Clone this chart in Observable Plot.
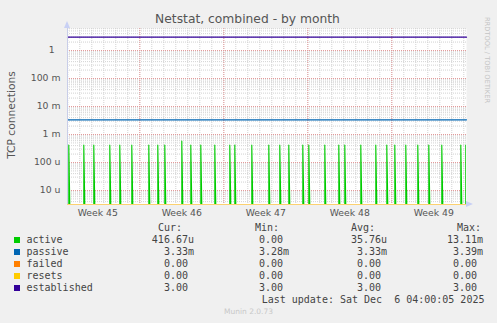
<!DOCTYPE html>
<html><head><meta charset="utf-8">
<script src="https://cdn.jsdelivr.net/npm/d3@7"></script>
<script src="https://cdn.jsdelivr.net/npm/@observablehq/plot@0.6"></script>
<style>
html,body{margin:0;padding:0;background:#f0f0f0;}
#wrap{position:relative;width:497px;height:323px;overflow:hidden;background:#f0f0f0;font-family:"DejaVu Sans",sans-serif;}
#wrap svg{position:absolute;left:0;top:0;}
.t{position:absolute;white-space:pre;line-height:12px;}
.mono{font-family:"DejaVu Sans Mono",monospace;font-size:10px;color:#444;}
.sw{position:absolute;width:6px;height:6px;}
</style></head><body><div id="wrap"></div>
<script>
// ---- data ----
const seriesNames = ["active","passive","failed","resets","established"];
const seriesColors = ["#00CC00","#0066B3","#FF8000","#FFCC00","#330099"];
const curValues = ["416.67u","3.33m","0.00 ","0.00 ","3.00 "];
const minValues = ["0.00 ","3.28m","0.00 ","0.00 ","3.00 "];
const avgValues = ["35.76u","3.33m","0.00 ","0.00 ","3.00 "];
const maxValues = ["13.11m","3.39m","0.00 ","0.00 ","3.00 "];

const activeTimes = ["2025-11-03T02:00:00Z","2025-11-04T08:00:00Z","2025-11-05T04:00:00Z","2025-11-06T12:00:00Z","2025-11-07T08:00:00Z","2025-11-08T08:00:00Z","2025-11-09T18:00:00Z","2025-11-10T12:00:00Z","2025-11-11T02:00:00Z","2025-11-12T12:00:00Z","2025-11-13T06:00:00Z","2025-11-14T02:00:00Z","2025-11-15T06:00:00Z","2025-11-16T12:00:00Z","2025-11-16T22:00:00Z","2025-11-18T08:00:00Z","2025-11-19T18:00:00Z","2025-11-20T16:00:00Z","2025-11-21T10:00:00Z","2025-11-22T14:00:00Z","2025-11-23T02:00:00Z","2025-11-24T10:00:00Z","2025-11-25T14:00:00Z","2025-11-26T02:00:00Z","2025-11-27T10:00:00Z","2025-11-28T16:00:00Z","2025-11-29T14:00:00Z","2025-11-30T06:00:00Z","2025-12-01T04:00:00Z","2025-12-02T04:00:00Z","2025-12-03T02:00:00Z","2025-12-04T04:00:00Z","2025-12-05T18:00:00Z","2025-12-06T04:00:00Z"];
const activeValues = [4.1667e-4,4.1667e-4,4.1667e-4,4.1667e-4,4.1667e-4,4.1667e-4,4.1667e-4,4.1667e-4,4.1667e-4,5.8e-4,4.1667e-4,4.1667e-4,4.1667e-4,4.1667e-4,4.1667e-4,4.1667e-4,4.1667e-4,4.1667e-4,4.1667e-4,4.1667e-4,4.1667e-4,4.1667e-4,4.1667e-4,4.1667e-4,4.1667e-4,4.1667e-4,4.1667e-4,4.1667e-4,4.1667e-4,4.1667e-4,4.1667e-4,4.1667e-4,4.1667e-4,4.1667e-4];

const flatTimes = ["2025-11-02T23:24:00Z","2025-12-06T05:24:00Z"];
const passiveValues = [3.33e-3, 3.33e-3];
const failedValues = [0, 0];
const resetsValues = [0, 0];
const establishedValues = [3, 3];

const weekTicks = ["2025-11-05T12:00:00Z","2025-11-12T12:00:00Z","2025-11-19T12:00:00Z","2025-11-26T12:00:00Z","2025-12-03T12:00:00Z"];
const weekLabels = ["Week 45","Week 46","Week 47","Week 48","Week 49"];
const yTicks = [1, 0.1, 0.01, 0.001, 1e-4, 1e-5];
const yTickLabels = ["1\u00a0\u00a0","100 m","10 m","1 m","100 u","10 u"];

// ---- scales ----
const xDomain = flatTimes.map(s => new Date(s));
const yDomain = [Math.pow(10, -5.5), Math.pow(10, 22/28)];
const floor = yDomain[0];
const clampY = v => Math.max(v, floor);

const stepMs = 2 * 3600 * 1000;
const activeData = [];
activeTimes.forEach((s, i) => {
  const t = new Date(s);
  activeData.push({t, v: floor, z: i});
  activeData.push({t, v: activeValues[i], z: i});
  activeData.push({t: new Date(+t + stepMs), v: floor, z: i});
});
const flat = vals => flatTimes.map((s, i) => ({t: new Date(s), v: clampY(vals[i])}));

const days = d3.utcDay.range(xDomain[0], xDomain[1]);
const sundays = d3.utcSunday.range(xDomain[0], xDomain[1]);
const minorY = [];
for (let k = -6; k <= 0; k++) for (let m = 2; m <= 9; m++) {
  const v = m * Math.pow(10, k);
  if (v > yDomain[0] && v < yDomain[1]) minorY.push(v);
}
const wTicks = weekTicks.map(s => new Date(s));

const plot = Plot.plot({
  width: 497, height: 220,
  marginLeft: 67, marginRight: 31, marginTop: 28, marginBottom: 16,
  style: {fontFamily: "DejaVu Sans, sans-serif", fontSize: "9.3px", color: "#555", background: "transparent", overflow: "visible"},
  x: {type: "utc", domain: xDomain},
  y: {type: "log", domain: yDomain},
  marks: [
    Plot.frame({fill: "white", stroke: "none"}),
    Plot.ruleY(minorY, {y: d => d, stroke: "#d2d2d2", strokeDasharray: "1,1"}),
    Plot.ruleX(days, {x: d => d, stroke: "#d2d2d2", strokeDasharray: "1,1"}),
    Plot.ruleY(yTicks, {y: d => d, stroke: "#e49a9a", strokeDasharray: "1,1"}),
    Plot.ruleX(sundays, {x: d => d, stroke: "#e49a9a", strokeDasharray: "1,1"}),
    Plot.line(activeData, {x: "t", y: "v", z: "z", stroke: seriesColors[0], strokeWidth: 1.1, clip: true, curve: "linear"}),
    Plot.line(flat(passiveValues), {x: "t", y: "v", stroke: seriesColors[1], strokeWidth: 1.2}),
    Plot.line(flat(failedValues), {x: "t", y: "v", stroke: seriesColors[2], strokeWidth: 1, strokeOpacity: 0.3}),
    Plot.line(flat(resetsValues), {x: "t", y: "v", stroke: seriesColors[3], strokeWidth: 1, strokeOpacity: 0.35}),
    Plot.line(flat(establishedValues), {x: "t", y: "v", stroke: seriesColors[4], strokeWidth: 1.2}),
    Plot.ruleX([xDomain[0]], {stroke: "#c8cde8"}),
    Plot.axisY({ticks: yTicks, tickFormat: d => yTickLabels[yTicks.indexOf(d)], tickSize: 0, tickPadding: 7, label: null}),
    Plot.axisX({ticks: wTicks, tickFormat: d => weekLabels[wTicks.findIndex(w => +w === +d)], tickSize: 0, tickPadding: 5, label: null})
  ]
});

const wrap = document.getElementById("wrap");
wrap.appendChild(plot);

// axis arrows
const svg = d3.select(plot);
svg.append("path").attr("d", "M64,28 L70,28 L67,21 Z").attr("fill", "#c8d0f4");
svg.append("path").attr("d", "M466,201 L466,207 L473,204 Z").attr("fill", "#c8d0f4");

function addText(txt, left, cy, cls, extra) {
  const d = document.createElement("div");
  d.className = "t " + (cls || "");
  d.textContent = txt;
  d.style.left = left + "px";
  d.style.top = (cy - 6) + "px";
  if (extra) Object.assign(d.style, extra);
  wrap.appendChild(d);
  return d;
}
function addRight(txt, right, cy) {
  const d = addText(txt, 0, cy, "mono");
  d.style.left = "auto";
  d.style.right = (497 - right) + "px";
  d.style.textAlign = "right";
  return d;
}

// title
addText("Netstat, combined - by month", 0, 19, "", {width: "497px", textAlign: "center", fontSize: "12.3px", color: "#555", left: "-1px"});
// y label
addText("TCP connections", 0, 0, "", {fontSize: "10.7px", color: "#555", left: "12px", top: "115px", transform: "translate(-50%,-50%) rotate(-90deg)", lineHeight: "12px"});
// watermark
addText("RRDTOOL / TOBI OETIKER", 0, 0, "", {fontSize: "6.7px", color: "#c4c4c4", left: "487px", top: "60px", transform: "translate(-50%,-50%) rotate(90deg)", lineHeight: "8px"});

// legend header
const headerY = 228;
addText("Cur:", 158, headerY, "mono");
addText("Min:", 255, headerY, "mono");
addText("Avg:", 351, headerY, "mono");
addText("Max:", 457, headerY, "mono");
seriesNames.forEach((name, i) => {
  const cy = 240 + 12 * i;
  const sw = document.createElement("div");
  sw.className = "sw";
  sw.style.left = "14px";
  sw.style.top = (cy - 3) + "px";
  sw.style.background = seriesColors[i];
  wrap.appendChild(sw);
  addText(name, 26.5, cy, "mono");
  addRight(curValues[i], 194, cy);
  addRight(minValues[i], 289, cy);
  addRight(avgValues[i], 387, cy);
  addRight(maxValues[i], 483, cy);
});
addText("Last update: Sat Dec  6 04:00:05 2025", 261.7, 300, "mono");
addText("Munin 2.0.73", 0, 312, "", {width: "497px", textAlign: "center", fontSize: "7.5px", color: "#c8c8c8", lineHeight: "12px"});
</script></body></html>
